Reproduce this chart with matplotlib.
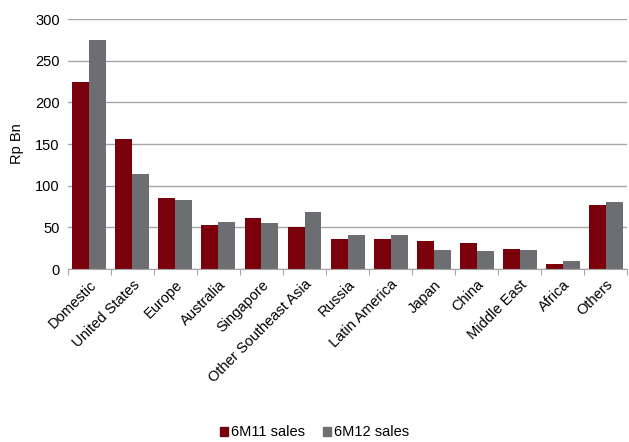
import numpy as np
import matplotlib.pyplot as plt
from matplotlib.patches import Patch

plt.rcParams['font.family'] = ['Liberation Sans', 'DejaVu Sans']

regions = ["Domestic", "United States", "Europe", "Australia", "Singapore",
           "Other Southeast Asia", "Russia", "Latin America", "Japan", "China",
           "Middle East", "Africa", "Others"]
sales_6m11 = [225, 156, 85, 53.5, 61.5, 50, 36.5, 36.5, 33.5, 31.5, 24.5, 6.5, 77.5]
sales_6m12 = [275, 114, 83.5, 56.5, 55, 68.5, 41.5, 41.5, 23.5, 22, 23, 10, 80]

red = "#7a000c"
grey = "#6d6e71"

fig = plt.figure(figsize=(6.29, 4.42), dpi=100)
ax = fig.add_axes([0.108, 0.391, 0.889, 0.566])

x = np.arange(len(regions))
w = 0.395
ax.bar(x - w / 2, sales_6m11, width=w, color=red, zorder=3)
ax.bar(x + w / 2, sales_6m12, width=w, color=grey, zorder=3)

ax.set_xlim(-0.5, len(regions) - 0.5)
ax.set_ylim(0, 300)
ax.set_yticks(range(0, 301, 50))
ax.yaxis.grid(True, color="#a6a6a6", linewidth=1.0, zorder=0)
ax.tick_params(axis="y", length=0, labelsize=10.5, pad=6)

for s in ["top", "right", "left"]:
    ax.spines[s].set_visible(False)
ax.spines["bottom"].set_color("#a6a6a6")
ax.spines["bottom"].set_zorder(4)

# category tick marks sit between groups, labels at group centres
ax.set_xticks(np.arange(-0.5, len(regions), 1.0))
ax.set_xticklabels([])
ax.tick_params(axis="x", which="major", length=4, color="#a6a6a6", direction="out")
ax.set_xticks(x, minor=True)
ax.set_xticklabels(regions, minor=True, rotation=45, ha="right",
                   rotation_mode="anchor", fontsize=10.5)
ax.tick_params(axis="x", which="minor", length=0, pad=6)

ax.set_ylabel("Rp Bn", fontsize=10.5, labelpad=8)

handles = [Patch(color=red, label="6M11 sales"), Patch(color=grey, label="6M12 sales")]
fig.legend(handles=handles, loc="center", bbox_to_anchor=(0.5, 0.022), ncol=2,
           frameon=False, fontsize=10.5, handlelength=0.6, handleheight=0.6,
           handletextpad=0.2, columnspacing=1.2, borderpad=0)

fig.savefig("out.png", dpi=100)
